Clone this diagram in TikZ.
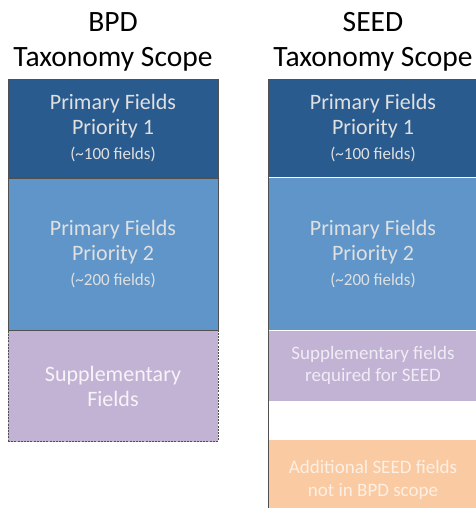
\documentclass[tikz,border=0pt]{standalone}
\usepackage{fontspec}
\setmainfont{Carlito}
\usetikzlibrary{positioning}
\definecolor{fielddark}{HTML}{2A5B8E}
\definecolor{fieldlight}{HTML}{5F95C9}
\definecolor{fieldpurple}{HTML}{C2B3D5}
\definecolor{fieldpeach}{HTML}{FACBA3}
\definecolor{framegray}{HTML}{505050}

\begin{document}
\begin{tikzpicture}[x=1pt, y=-1pt, semithick,
    field/.style={minimum width=210pt, inner sep=0pt, align=center, text=white!88!black,
      font=\fontsize{22}{25}\selectfont},
    smallfield/.style={field, font=\fontsize{19}{22.5}\selectfont},
    title/.style={align=center, inner sep=0pt, font=\fontsize{29.5}{35}\selectfont}]
  \useasboundingbox (0,0) rectangle (475,508);

  % BPD column
  \node[title] (bpdtitle) at (113,42) {BPD\\Taxonomy Scope};
  \node[field, fill=fielddark, draw=framegray, minimum height=98pt, anchor=north] (bpd1) at (113,79)
    {Primary Fields\\Priority 1\\{\fontsize{17}{22}\selectfont(\textasciitilde100 fields)}};
  \node[field, fill=fieldlight, draw=framegray, minimum height=152pt, below=0pt of bpd1] (bpd2)
    {Primary Fields\\Priority 2\\{\fontsize{17}{22}\selectfont(\textasciitilde200 fields)}};
  \node[field, fill=fieldpurple, draw=framegray, dash pattern=on 2pt off 1.2pt, minimum height=111pt,
    text=white!85!fieldpurple, below=0pt of bpd2] (bpdsupp) {Supplementary\\Fields};

  % SEED column
  \node[title] (seedtitle) at (373,42) {SEED\\Taxonomy Scope};
  \node[field, fill=fielddark, minimum height=98pt, anchor=north] (seed1) at (373,79)
    {Primary Fields\\Priority 1\\{\fontsize{17}{22}\selectfont(\textasciitilde100 fields)}};
  \node[field, fill=fieldlight, minimum height=152pt, below=0pt of seed1] (seed2)
    {Primary Fields\\Priority 2\\{\fontsize{17}{22}\selectfont(\textasciitilde200 fields)}};
  \node[smallfield, fill=fieldpurple, minimum height=70pt, text=white!75!fieldpurple,
    below=0pt of seed2] (seedsupp) {Supplementary fields\\required for SEED};
  \node[smallfield, fill=fieldpeach, minimum height=80pt, text=white!70!fieldpeach,
    below=39pt of seedsupp] (seedextra) {Additional SEED fields\\not in BPD scope};
  \node[draw=framegray, minimum width=210pt, minimum height=445pt, inner sep=0pt,
    anchor=north] (seedframe) at (373,79) {};
\end{tikzpicture}
\end{document}
